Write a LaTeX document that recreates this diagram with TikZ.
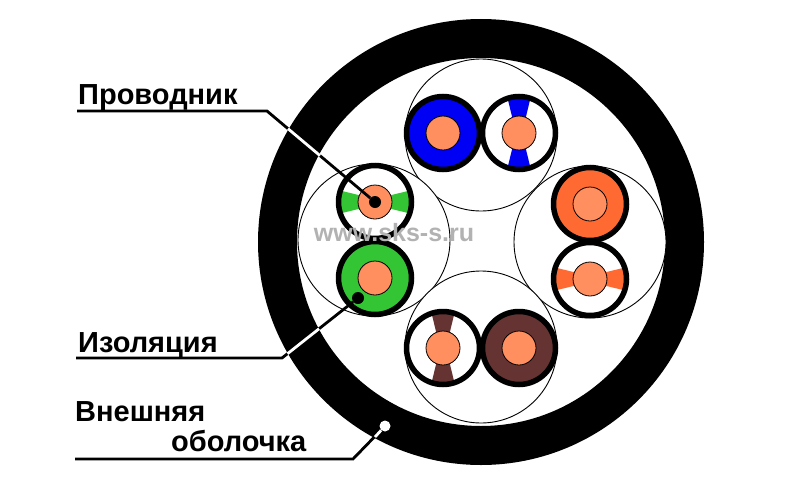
\documentclass[tikz,border=0pt]{standalone}
\usepackage{fontspec}
\setmainfont{Liberation Sans}
\definecolor{copper}{HTML}{FF8F5E}
\definecolor{cblue}{HTML}{0000F5}
\definecolor{cgreen}{HTML}{33C533}
\definecolor{corange}{HTML}{FF6A33}
\definecolor{cbrown}{HTML}{663333}
\tikzstyle{jacket} = [circle, draw=black, line width=39pt, inner sep=0pt, minimum size=407pt]
\tikzstyle{pair}   = [circle, draw=black, line width=0.9pt, fill=white, inner sep=0pt, minimum size=152pt]
\tikzstyle{wire}   = [circle, draw=black, line width=5.5pt, inner sep=0pt, minimum size=73pt]
\tikzstyle{core}   = [circle, draw=black, line width=0.8pt, fill=copper, inner sep=0pt, minimum size=34pt]
\tikzstyle{dot}    = [circle, fill=black, inner sep=0pt, minimum size=12pt]
\tikzstyle{label}  = [font=\bfseries\fontsize{29}{29}\selectfont, inner sep=0pt, anchor=base west]
\tikzstyle{leader} = [line width=2.8pt]
\begin{document}
\begin{tikzpicture}[x=1pt,y=-1pt]
\useasboundingbox (0,0) rectangle (800,482);

\node (sheath) [jacket] at (481,242) {};

% pair circles
\node (pairTop)    [pair] at (481,135) {};
\node (pairLeft)   [pair] at (374,240) {};
\node (pairRight)  [pair] at (590,242) {};
\node (pairBottom) [pair] at (481,347) {};

% solid wires
\foreach \name/\x/\y/\col in {blue/443/133/cblue, green/375/278/cgreen, orange/590/204/corange, brown/519/348/cbrown}
{
  \node (wire\name) [wire, fill=\col] at (\x,\y) {};
  \node (core\name) [core] at (\x,\y) {};
}

% striped wires
\foreach \name/\x/\y/\col/\ang in {bluew/519/133/cblue/90, greenw/375/202/cgreen/0, orangew/590/279/corange/0, brownw/443/348/cbrown/90}
{
  \fill [white] (\x,\y) circle (36);
  \fill [\col, rotate around={\ang:(\x,\y)}] (\x-35,\y-11.5) -- (\x,\y-3) -- (\x+35,\y-11.5) -- (\x+35,\y+11.5) -- (\x,\y+3) -- (\x-35,\y+11.5) -- cycle;
  \node (wire\name) [wire] at (\x,\y) {};
  \node (core\name) [core] at (\x,\y) {};
}

\node (www) [font=\bfseries\fontsize{25}{25}\selectfont, text=black!30, inner sep=0pt] at (394,233) {www.sks-s.ru};

\node (textCond) [label] at (78,104) {Проводник};
\node (textIns)  [label] at (78,352) {Изоляция};
\node (textOut1) [label] at (75,421) {Внешняя};
\node (textOut2) [label] at (171,451) {оболочка};

\node (dotCond) [dot] at (375,202) {};
\node (dotIns)  [dot] at (358,298) {};
\node (dotOut)  [dot, fill=white, minimum size=11pt] at (385,426) {};

\coordinate (endCond) at (77,111);
\coordinate (kneeCond) at (267,111);
\coordinate (endIns) at (76,358);
\coordinate (kneeIns) at (282,358);
\coordinate (endOut) at (75,459);
\coordinate (kneeOut) at (353,459);

\draw [leader] (endCond) -- (kneeCond) -- (dotCond);
\draw [leader] (endIns) -- (kneeIns) -- (dotIns);
\draw [leader] (endOut) -- (kneeOut) -- (dotOut);

% white where the lines cross the sheath
\coordinate (ringCondA) at (288,128.7);
\coordinate (ringCondB) at (320,155.6);
\coordinate (ringInsA) at (287.5,353.7);
\coordinate (ringInsB) at (319,328.8);
\coordinate (ringOutA) at (375,437);
\draw [leader, white] (ringCondA) -- (ringCondB);
\draw [leader, white] (ringInsA) -- (ringInsB);
\draw [leader, white] (ringOutA) -- (dotOut);
\end{tikzpicture}
\end{document}
